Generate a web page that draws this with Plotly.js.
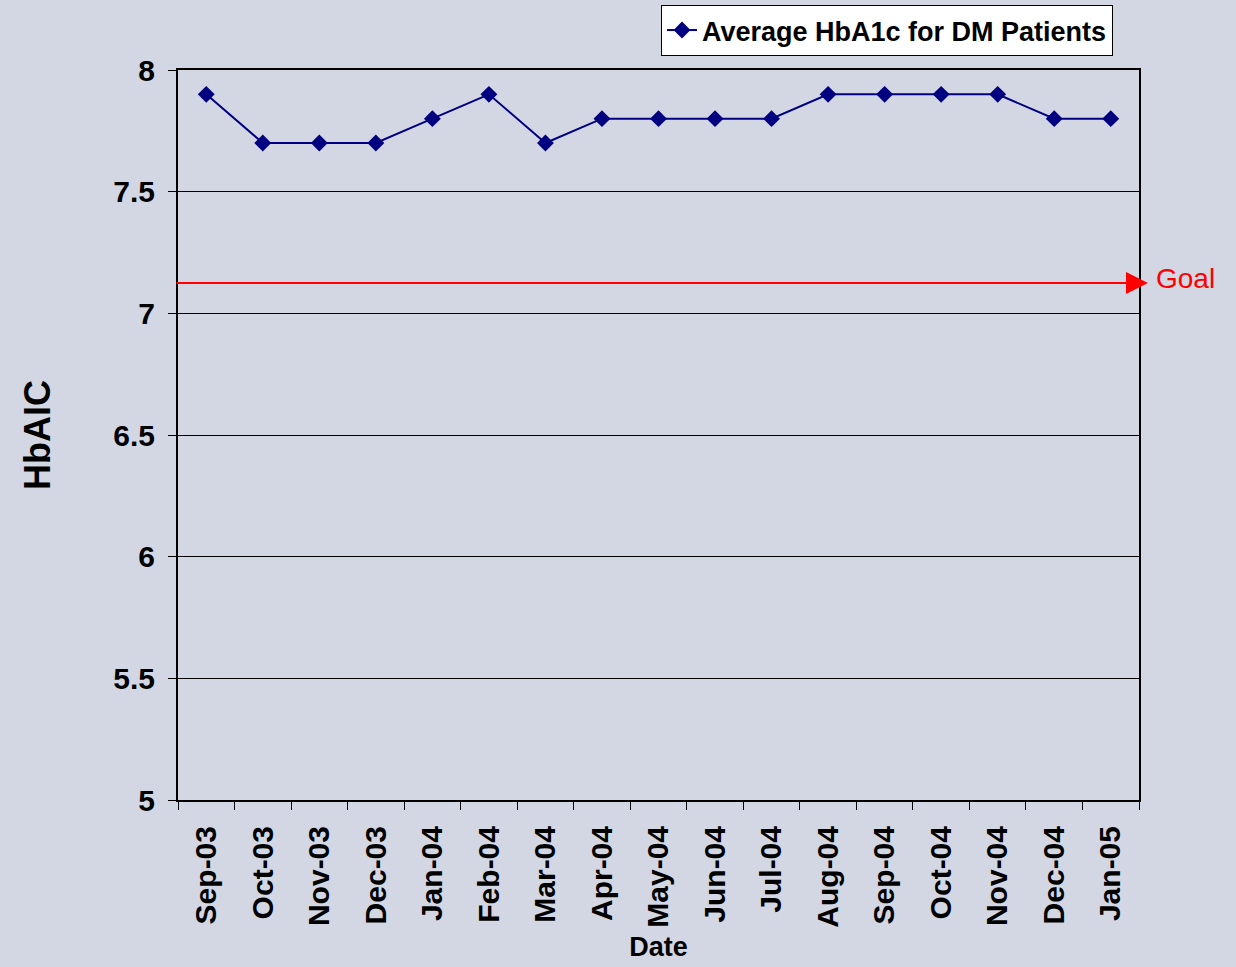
<!DOCTYPE html>
<html>
<head>
<meta charset="utf-8">
<script src="https://cdn.plot.ly/plotly-3.0.1.min.js"></script>
<style>html,body{margin:0;padding:0;background:#D3D7E4;}</style>
</head>
<body>
<div id="chart" style="width:1236px;height:967px;"></div>
<script>
var dates = ["Sep-03","Oct-03","Nov-03","Dec-03","Jan-04","Feb-04","Mar-04","Apr-04","May-04","Jun-04","Jul-04","Aug-04","Sep-04","Oct-04","Nov-04","Dec-04","Jan-05"];
var hba1c = [7.9,7.7,7.7,7.7,7.8,7.9,7.7,7.8,7.8,7.8,7.8,7.9,7.9,7.9,7.9,7.8,7.8];
var goalValue = 7.125;
var seriesName = "Average HbA1c for DM Patients";

var bg = "#D3D7E4";
var font = "Arial, 'Liberation Sans', sans-serif";

var trace = {
  x: dates, y: hba1c, type: "scatter", mode: "lines+markers", name: seriesName,
  line: {color: "#000080", width: 2},
  marker: {symbol: "diamond", size: 13, color: "#000080"}
};

var layout = {
  width: 1236, height: 967,
  paper_bgcolor: bg, plot_bgcolor: bg,
  margin: {l: 178, r: 97, t: 70, b: 167, autoexpand: false},
  font: {family: font, color: "#000"},
  showlegend: true,
  legend: {
    xref: "container", yref: "container",
    x: 1113 / 1236, y: 1 - 5 / 967, xanchor: "right", yanchor: "top",
    bgcolor: "#FFFFFF", bordercolor: "#000", borderwidth: 1,
    font: {family: font, size: 27, color: "#000", weight: "bold"},
    tracegroupgap: 0
  },
  xaxis: {
    type: "category", tickson: "boundaries",
    ticks: "outside", ticklen: 8, tickcolor: "#000", tickwidth: 1,
    tickangle: -90, ticklabelstandoff: 12,
    tickfont: {family: font, size: 30, color: "#000", weight: "bold"},
    showline: true, linecolor: "#000", linewidth: 2, mirror: true,
    showgrid: false, zeroline: false,
    range: [-0.5, dates.length - 0.5],
    title: {text: "Date", font: {family: font, size: 27, color: "#000", weight: "bold"}, standoff: 10},
    automargin: false
  },
  yaxis: {
    range: [5, 8], dtick: 0.5, tick0: 5,
    ticks: "outside", ticklen: 8, tickcolor: "#000", tickwidth: 1,
    ticklabelstandoff: 7,
    tickfont: {family: font, size: 30, color: "#000", weight: "bold"},
    showline: true, linecolor: "#000", linewidth: 2, mirror: true,
    showgrid: true, gridcolor: "#000", gridwidth: 1, zeroline: false,
    title: {text: "HbAIC", font: {family: font, size: 36, color: "#000", weight: "bold"}, standoff: 52},
    automargin: false
  },
  annotations: [
    {
      xref: "paper", yref: "y", x: (1148 - 178) / 961, y: goalValue,
      ax: -973, ay: 0, axref: "pixel", ayref: "pixel",
      showarrow: true, arrowhead: 2, arrowsize: 2.2, arrowwidth: 2, arrowcolor: "#FF0000",
      text: ""
    },
    {
      xref: "paper", yref: "y", x: (1154 - 178) / 961, y: goalValue + 0.02,
      xanchor: "left", yanchor: "middle", showarrow: false,
      text: "Goal", font: {family: font, size: 28, color: "#FF0000"}
    }
  ]
};

Plotly.newPlot("chart", [trace], layout, {displayModeBar: false, staticPlot: true});
</script>
</body>
</html>
